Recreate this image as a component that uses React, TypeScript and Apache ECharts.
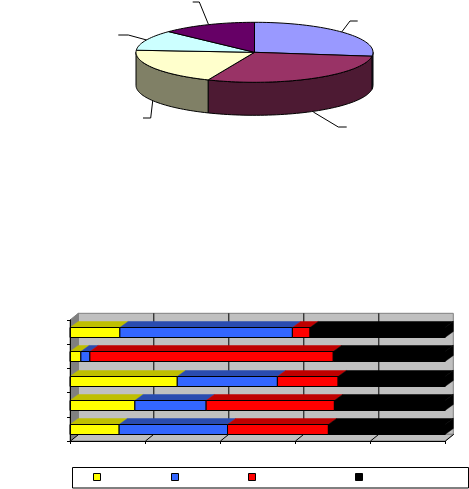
import React, { useEffect, useRef } from "react";
import * as echarts from "echarts";

const pieValues = [27.1, 29.3, 19.7, 11, 12.9];
const pieTopColors = ["#9999FF", "#993366", "#FFFFCC", "#CCFFFF", "#660066"];
const pieSideColors = ["#4D4D80", "#4D1A33", "#808066", "#668080", "#330033"];

const categories = ["E", "D", "C", "B", "A"];
const seriesNames = ["S1", "S2", "S3", "S4"];
const s1 = [13.3, 2.9, 28.6, 17.3, 13.1];
const s2 = [46, 2.4, 26.7, 19, 28.9];
const s3 = [4.7, 64.9, 16.2, 34.2, 26.9];
const s4 = [36, 29.8, 28.5, 29.5, 31.1];
const seriesValues = [s1, s2, s3, s4];
const frontColors = ["#FFFF00", "#3366FF", "#FF0000", "#000000"];
const topColors = ["#BFBF00", "#2A4CB0", "#BF0000", "#000000"];
const xTicks = [0, 20, 40, 60, 80, 100];
const legendX = [96.7, 174, 251.7, 358.7];

const leaders = [
  [[192.7, 2], [199.3, 2], [208.3, 24]],
  [[357.7, 21], [350, 21], [341.7, 32]],
  [[118.3, 35], [128.3, 35], [146.7, 40]],
  [[143, 118], [150.7, 118], [152.7, 101]],
  [[346.7, 127], [338.3, 127], [313.3, 112]],
];

const CX = 254.5, CY = 52.3, RX = 118.5, RY = 30, DEPTH = 33;
const DX = 8.3, DY = 6.7, BAR_H = 10;

function ellipsePoint(t: number, dy = 0) {
  const r = (t * Math.PI) / 180;
  return [CX + RX * Math.sin(r), CY - RY * Math.cos(r) + dy];
}
function arc(t0: number, t1: number, dy = 0) {
  const pts: number[][] = [];
  const n = Math.max(2, Math.ceil((t1 - t0) / 2));
  for (let i = 0; i <= n; i++) pts.push(ellipsePoint(t0 + ((t1 - t0) * i) / n, dy));
  return pts;
}

function renderPie(params: any, api: any) {
  const i = params.dataIndex;
  const total = pieValues.reduce((a, b) => a + b, 0);
  const before = pieValues.slice(0, i).reduce((a, b) => a + b, 0);
  const t0 = (before / total) * 360;
  const t1 = t0 + (api.value(0) / total) * 360;
  const children: any[] = [];
  const s0 = Math.max(t0, 90), s1e = Math.min(t1, 270);
  if (s1e > s0) {
    children.push({
      type: "polygon",
      shape: { points: [...arc(s0, s1e), ...arc(s0, s1e, DEPTH).reverse()] },
      style: { fill: pieSideColors[i], stroke: "#000", lineWidth: 1 },
    });
  }
  children.push({
    type: "polygon",
    shape: { points: [[CX, CY], ...arc(t0, t1)] },
    style: { fill: pieTopColors[i], stroke: "#000", lineWidth: 1 },
    z2: 5,
  });
  return { type: "group", children };
}

function renderWalls(params: any, api: any) {
  const c = params.coordSys;
  const x0 = c.x, x1 = c.x + c.width, y0 = c.y, y1 = c.y + c.height;
  const children: any[] = [];
  if (params.dataIndex === 0) {
    children.push(
      { type: "polygon", shape: { points: [[x0 + DX, y0 - DY], [x1 + DX, y0 - DY], [x1 + DX, y1 - DY], [x0 + DX, y1 - DY]] }, style: { fill: "#C0C0C0", stroke: "#808080", lineWidth: 1 } },
      { type: "polygon", shape: { points: [[x0, y0], [x0 + DX, y0 - DY], [x0 + DX, y1 - DY], [x0, y1]] }, style: { fill: "#808080", stroke: "#808080", lineWidth: 1 } },
      { type: "polygon", shape: { points: [[x0, y1], [x0 + DX, y1 - DY], [x1 + DX, y1 - DY], [x1, y1]] }, style: { fill: "#C0C0C0", stroke: "#808080", lineWidth: 1 } }
    );
  }
  const p = api.coord([api.value(0), 0]);
  const gx = Math.round(p[0]) + 0.5;
  const lineStyle = { stroke: "#000", lineWidth: 1 };
  if (api.value(0) > 0 && api.value(0) < 100) {
    children.push({ type: "line", shape: { x1: gx + DX, y1: y0 - DY, x2: gx + DX, y2: y1 - DY }, style: lineStyle });
  }
  children.push({ type: "line", shape: { x1: gx, y1: y1, x2: gx + DX, y2: y1 - DY }, style: lineStyle });
  return { type: "group", children };
}

function renderBar(seriesIndex: number) {
  return (_params: any, api: any) => {
    const a = api.coord([api.value(1), api.value(0)]);
    const b = api.coord([api.value(2), api.value(0)]);
    const top = Math.round(a[1] - BAR_H / 2) + 0.5;
    const bot = top + BAR_H;
    const children: any[] = [
      { type: "polygon", shape: { points: [[a[0], top], [a[0] + DX, top - DY + 0.7], [b[0] + DX, top - DY + 0.7], [b[0], top]] }, style: { fill: topColors[seriesIndex], stroke: topColors[seriesIndex], lineWidth: 0.5 } },
    ];
    if (seriesIndex === seriesValues.length - 1) {
      children.push({ type: "polygon", shape: { points: [[b[0], top], [b[0] + DX, top - DY + 0.7], [b[0] + DX, bot - DY + 0.7], [b[0], bot]] }, style: { fill: "#000", stroke: "#000", lineWidth: 0.5 } });
    }
    children.push({ type: "rect", shape: { x: a[0], y: top, width: b[0] - a[0], height: BAR_H }, style: { fill: frontColors[seriesIndex], stroke: "#000", lineWidth: 1 } });
    return { type: "group", children };
  };
}

export default function App() {
  const ref = useRef<HTMLDivElement>(null);
  useEffect(() => {
    const chart = echarts.init(ref.current!, undefined, { renderer: "svg" });
    const barSeries = seriesValues.map((vals, si) => ({
      type: "custom",
      name: seriesNames[si],
      coordinateSystem: "cartesian2d",
      z: 3,
      clip: false,
      renderItem: renderBar(si),
      encode: { x: [1, 2], y: 0 },
      data: vals.map((v, ci) => {
        const start = seriesValues.slice(0, si).reduce((acc, arr) => acc + arr[ci], 0);
        return [ci, start, start + v];
      }),
    }));
    chart.setOption({
      animation: false,
      backgroundColor: "#fff",
      grid: { left: 70, top: 320, width: 375, height: 121, containLabel: false },
      xAxis: {
        type: "value", min: 0, max: 100, interval: 20, z: 6,
        axisLine: { show: true, lineStyle: { color: "#000" } },
        axisTick: { show: true, length: 3, lineStyle: { color: "#000" } },
        axisLabel: { show: false }, splitLine: { show: false },
      },
      yAxis: {
        type: "category", inverse: true, data: categories, z: 6,
        axisLine: { show: true, lineStyle: { color: "#000" } },
        axisTick: { show: true, length: 3, lineStyle: { color: "#000" } },
        axisLabel: { show: false }, splitLine: { show: false },
      },
      graphic: {
        elements: [
          ...leaders.map((pts) => ({ type: "polyline", shape: { points: pts }, style: { stroke: "#000", lineWidth: 1, fill: "none" } })),
          { type: "rect", shape: { x: 72.5, y: 467.5, width: 396, height: 20.5 }, style: { fill: "#fff", stroke: "#000", lineWidth: 1 } },
          ...legendX.map((x, i) => ({ type: "rect", shape: { x: Math.round(x - 3.5) + 0.5, y: 473.5, width: 7, height: 7 }, style: { fill: frontColors[i], stroke: "#000", lineWidth: 1 }, z: 10 })),
        ],
      },
      series: [
        { type: "custom", coordinateSystem: "none", z: 4, renderItem: renderPie, data: pieValues.map((v) => [v]) },
        { type: "custom", coordinateSystem: "cartesian2d", z: 1, clip: false, renderItem: renderWalls, encode: { x: 0 }, data: xTicks.map((t) => [t]) },
        ...barSeries,
      ],
    });
    return () => chart.dispose();
  }, []);
  return <div ref={ref} style={{ position: "absolute", left: 0, top: 0, width: 469, height: 489 }} />;
}
